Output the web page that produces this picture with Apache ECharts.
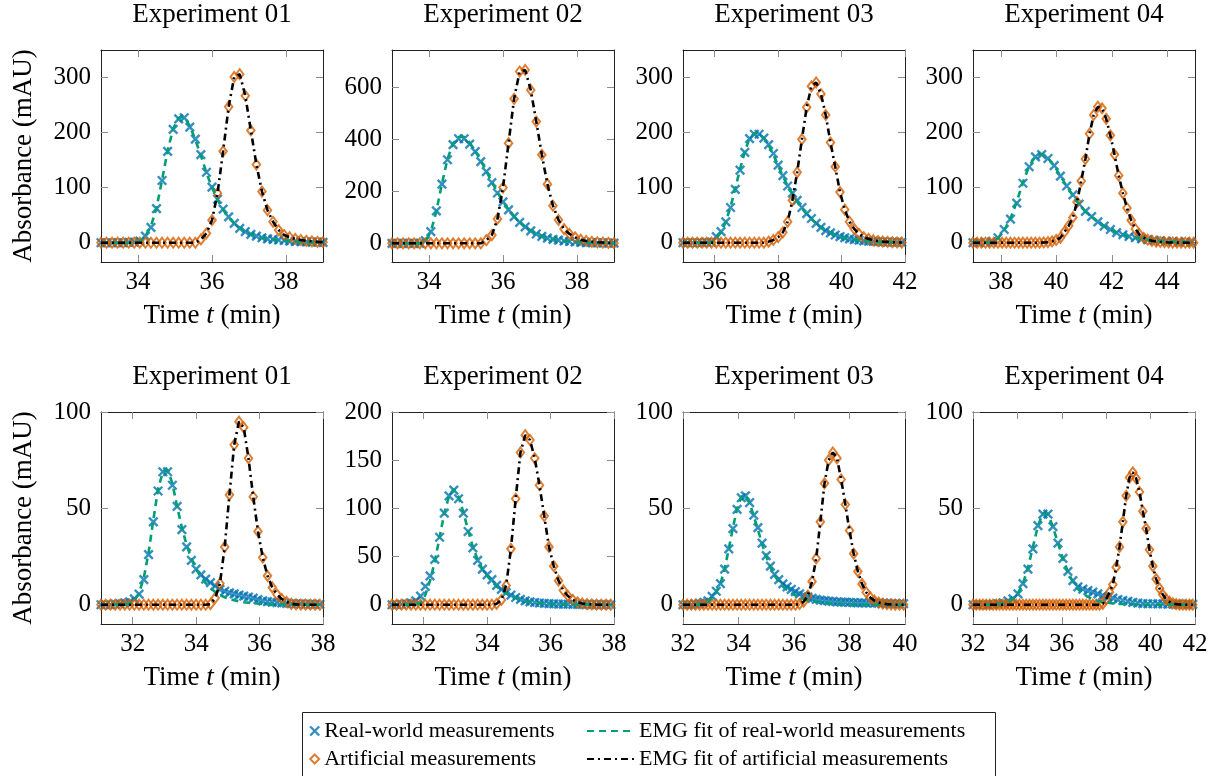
<!DOCTYPE html>
<html>
<head>
<meta charset="utf-8">
<title>EMG fits of chromatography peaks</title>
<script src="https://cdn.jsdelivr.net/npm/echarts@6/dist/echarts.min.js"></script>
<style>
  html, body { margin: 0; padding: 0; background: #fff; }
  #chart { width: 1222px; height: 776px; }
</style>
</head>
<body>
<div id="chart"></div>
<script>
// panels: top row = experiments 01..04, bottom row = experiments 01..04
const titles = ['Experiment 01', 'Experiment 02', 'Experiment 03', 'Experiment 04',
                'Experiment 01', 'Experiment 02', 'Experiment 03', 'Experiment 04'];

const xRanges = [[33, 39], [33, 39], [35, 42], [37, 45], [31, 38], [31, 38], [32, 40], [32, 42]];
const yRanges = [[-35, 350], [-72, 745], [-35, 350], [-35, 350], [-10, 100], [-20, 200], [-10, 100], [-10, 100]];

const xTicks = [
  [34, 36, 38], [34, 36, 38], [36, 38, 40, 42], [38, 40, 42, 44],
  [32, 34, 36, 38], [32, 34, 36, 38], [32, 34, 36, 38, 40], [32, 34, 36, 38, 40, 42]
];
const yTicks = [
  [0, 100, 200, 300], [0, 200, 400, 600], [0, 100, 200, 300], [0, 100, 200, 300],
  [0, 50, 100], [0, 50, 100, 150, 200], [0, 50, 100], [0, 50, 100]
];

// sampling of the measurements (time of first sample, spacing in min)
const startTimes = [33, 33, 35, 37, 31, 31, 32, 32];
const realSteps = [0.15, 0.15, 0.15, 0.225, 0.15, 0.15, 0.15, 0.225];
const artSteps = [0.15, 0.15, 0.15, 0.15, 0.15, 0.15, 0.15, 0.15];

// real-world measurements (mAU)
const realMeas = [
  [0, 0, 0, 0, 0, 0.5, 1, 3, 12, 28, 62, 113, 166, 206, 225, 227, 210, 188, 160, 128, 101, 79, 61, 47, 35, 26, 20, 15, 12, 9, 7, 6, 5, 4, 3, 2.5, 2, 1.5, 1.2, 1, 0.8],
  [0, 0, 0, 0, 0, 0, 10, 45, 125, 228, 322, 380, 403, 403, 382, 353, 315, 276, 234, 194, 160, 129, 103, 81, 63, 48, 36, 27, 20, 15, 12, 9, 7, 5, 4, 3, 2.5, 2, 1.5, 1, 1],
  [0, 0, 0, 0, 0, 0.5, 1, 11, 20, 38, 64, 97, 132, 164, 189, 197, 197, 190, 178, 162, 141, 122, 103, 90, 77, 64, 53, 44, 35, 28, 22, 18, 14, 11, 9, 7, 5.5, 4.5, 3.5, 3, 2.5, 2, 1.5, 1.2, 1, 0.8, 0.6],
  [0, 0, 0.5, 2, 9, 24, 43, 72, 108, 138, 156, 160, 153, 140, 121, 103, 87, 70, 57, 47.5, 38, 30, 24, 18.5, 14.5, 11.3, 9, 7, 5.5, 4.3, 3.4, 2.7, 2.1, 1.7, 1.3, 1],
  [0, 0, 0, 0.3, 0.5, 1, 1.5, 3, 5.5, 13, 26, 43, 59, 69, 69, 62, 51, 39, 30, 23, 18.5, 15.5, 13.3, 11.5, 9.8, 8, 7, 6.2, 5.6, 5, 4.5, 4, 3.4, 2.6, 2, 1.6, 1.3, 1.1, 0.9, 0.7, 0.6, 0.5, 0.4, 0.3, 0.3, 0.2, 0.2],
  [0, 0, 0.5, 1, 2, 4, 9, 19, 30, 47, 70, 95, 113, 119, 110, 95, 76, 59, 46, 37, 31, 26, 20, 16, 12.5, 10, 7.5, 5.5, 4, 3, 2.3, 1.8, 1.4, 1.1, 0.9, 0.7, 0.6, 0.5, 0.4, 0.4, 0.3, 0.3, 0.2, 0.2, 0.2, 0.1, 0.1],
  [0, 0, 0, 0.3, 0.7, 1.2, 2, 4.3, 7, 11, 18.5, 29, 39.5, 49.5, 55.5, 56.5, 53, 46.5, 40, 32, 25.5, 20, 15.7, 13, 10.8, 9.3, 8, 6.8, 5.6, 4.7, 3.9, 3.3, 2.8, 2.4, 2.1, 1.9, 1.7, 1.5, 1.4, 1.3, 1.2, 1.1, 1, 1, 0.9, 0.9, 0.8, 0.8, 0.7, 0.7, 0.6, 0.6, 0.5, 0.5],
  [0, 0, 0, 0, 0.2, 0.5, 1, 2, 3, 5.6, 10.9, 18.5, 29, 41, 47, 47, 40.5, 32, 24, 17.3, 12.5, 9.3, 8.1, 7.3, 6.5, 5.6, 4.7, 3.9, 3.4, 2.7, 2.2, 1.7, 1.2, 0.8, 0.6, 0.5, 0.5, 0.4, 0.4, 0.3, 0.3, 0.3, 0.2, 0.2, 0.2]
];

// EMG fit of the real-world measurements, same time grid as realMeas
const realFit = [
  [0, 0, 0, 0, 0, 0, 0, 2, 12, 30, 63, 114, 167, 207, 227, 229, 212, 187, 158, 127, 100, 78, 60, 46, 35, 27, 20, 15, 12, 9, 7, 6, 5, 4, 3, 2.5, 2, 1.5, 1.2, 1, 0.8],
  [0, 0, 0, 0, 0, 0, 8, 45, 125, 230, 325, 385, 410, 410, 388, 356, 318, 278, 236, 196, 161, 130, 104, 82, 64, 49, 37, 28, 21, 16, 12, 9, 7, 5, 4, 3, 2.3, 1.8, 1.4, 1, 0.8],
  [0, 0, 0, 0, 0, 0, 0.5, 8, 19, 38, 65, 99, 134, 166, 190, 199, 198, 190, 177, 160, 140, 121, 103, 88, 75, 63, 52, 43, 35, 28, 22, 17.5, 14, 11, 8.5, 6.7, 5.3, 4.2, 3.3, 2.6, 2, 1.6, 1.2, 1, 0.8, 0.6, 0.5],
  [0, 0, 0, 1, 8, 23, 44, 74, 110, 139, 157, 161, 154, 140, 121, 103, 86, 70, 57, 47, 38, 30, 24, 18.5, 14.5, 11.3, 9, 7, 5.5, 4.3, 3.4, 2.7, 2.1, 1.7, 1.3, 1],
  [0, 0, 0, 0, 0, 0, 0.5, 2, 6, 14, 27, 44, 60, 69, 70, 63, 51, 40, 31, 24, 18.5, 14.5, 11.2, 8.6, 6.6, 5, 3.9, 3, 2.3, 1.8, 1.3, 1, 0.8, 0.6, 0.4, 0.3, 0.2, 0.15, 0.1, 0.1, 0, 0, 0, 0, 0, 0, 0],
  [0, 0, 0, 0, 0, 0, 2, 10, 25, 45, 70, 95, 113, 120, 112, 96, 77, 60, 47, 37, 30, 24, 19, 15, 11.5, 9, 7, 5.3, 4, 3, 2.3, 1.7, 1.3, 1, 0.7, 0.5, 0.4, 0.3, 0.2, 0.2, 0.1, 0.1, 0.1, 0, 0, 0, 0],
  [0, 0, 0, 0, 0.2, 0.6, 1.5, 3.5, 6.5, 11, 18.5, 29, 40, 50, 56, 57, 53, 46, 39, 31.5, 25, 19.5, 15.2, 12, 9.5, 7.6, 6.1, 4.9, 3.9, 3.1, 2.5, 2, 1.6, 1.3, 1, 0.8, 0.6, 0.5, 0.4, 0.3, 0.25, 0.2, 0.15, 0.1, 0.1, 0.1, 0, 0, 0, 0, 0, 0, 0, 0],
  [0, 0, 0, 0, 0, 0.3, 0.8, 1.8, 3.2, 6, 11, 19, 30, 41, 47.5, 47, 40.5, 32, 24, 17, 11.8, 8.2, 5.8, 4.1, 2.9, 2, 1.4, 1, 0.7, 0.5, 0.35, 0.25, 0.2, 0.1, 0.1, 0, 0, 0, 0, 0, 0, 0, 0, 0, 0]
];

// artificial measurements (mAU); the EMG fit of these runs through the same values
const artMeas = [
  [0, 0, 0, 0, 0, 0, 0, 0, 0, 0, 0, 0, 0, 0, 0, 0, 0, 0, 6, 17, 41, 90, 166, 247, 301, 306, 267, 204, 142, 93, 59, 38, 23, 14, 10, 7, 5, 3.5, 2.5, 1.5, 1],
  [0, 0, 0, 0, 0, 0, 0, 0, 0, 0, 0, 0, 0, 0, 0, 0, 0, 12, 32, 94, 215, 386, 557, 662, 668, 591, 469, 341, 228, 145, 90, 55, 36, 23, 14, 9, 6, 4, 3, 2, 1],
  [0, 0, 0, 0, 0, 0, 0, 0, 0, 0, 0, 0, 0, 0, 0, 0, 0, 0, 2, 5, 10, 19, 38, 77, 128, 188, 246, 284, 291, 270, 232, 182, 138, 92, 60, 38, 25, 16, 10, 7, 4.5, 3, 2, 1.5, 1, 0.6, 0.4],
  [0, 0, 0, 0, 0, 0, 0, 0, 0, 0, 0, 0, 0, 0, 0, 0, 0, 0.5, 1, 2.5, 5, 9, 20, 31, 46, 74, 112, 152, 198, 232, 247, 244, 225, 195, 160, 122, 90, 63, 41, 25, 15, 9, 5.5, 3.5, 2.2, 1.4, 0.9, 0.5, 0.3, 0.2, 0.1, 0, 0, 0],
  [0, 0, 0, 0, 0, 0, 0, 0, 0, 0, 0, 0, 0, 0, 0, 0, 0, 0, 0, 0, 0, 0, 0, 0.3, 3.5, 11, 30, 57, 83, 95, 92, 76, 56, 38, 24.5, 15, 9, 5.3, 3, 1.5, 0.5, 0.2, 0.1, 0, 0, 0, 0],
  [0, 0, 0, 0, 0, 0, 0, 0, 0, 0, 0, 0, 0, 0, 0, 0, 0, 0, 0, 0, 0, 0, 1, 5, 20, 58, 110, 158, 176, 171, 152, 124, 92, 60, 40, 25, 15, 9, 5, 2.5, 1.3, 0.6, 0.3, 0.1, 0, 0, 0],
  [0, 0, 0, 0, 0, 0, 0, 0, 0, 0, 0, 0, 0, 0, 0, 0, 0, 0, 0, 0, 0, 0, 0, 0, 0, 0, 0, 0, 0.4, 1.6, 4.7, 12, 24, 43, 63, 75, 79, 76, 65, 52, 38.5, 26.5, 17.3, 10.8, 6.5, 3.8, 2.1, 1.1, 0.6, 0.3, 0.15, 0, 0, 0],
  [0, 0, 0, 0, 0, 0, 0, 0, 0, 0, 0, 0, 0, 0, 0, 0, 0, 0, 0, 0, 0, 0, 0, 0, 0, 0, 0, 0, 0, 0, 0, 0, 0, 0, 0, 0, 0, 0, 0, 0.5, 3, 6.5, 10.5, 19.5, 30, 43, 56.5, 66, 68.7, 65.5, 58.5, 48.5, 39.5, 28.5, 20, 13.3, 8.5, 5.2, 2.9, 1.5, 0.7, 0.3, 0.1, 0, 0, 0, 0]
];

const FONT = 'Liberation Serif, DejaVu Serif, serif';
const BLUE = '#0072B2';
const TEAL = '#009E73';
const ORANGE = '#D55E00';
const CROSS = 'path://M0,0L10,10M10,0L0,10';

const gridLefts = [101, 392, 683, 973, 101, 392, 683, 973];
const gridTops = [50, 50, 50, 50, 412, 412, 412, 412];
const gridW = 222;
const gridH = 212;

const chart = echarts.init(document.getElementById('chart'), null, { renderer: 'canvas' });

const grids = [], xAxes = [], yAxes = [], titleList = [], series = [];

for (let i = 0; i < 8; i++) {
  grids.push({ left: gridLefts[i], top: gridTops[i], width: gridW, height: gridH });

  titleList.push({
    text: titles[i],
    left: gridLefts[i] + gridW / 2,
    top: gridTops[i] - 49,
    textAlign: 'center',
    padding: 0,
    textStyle: { fontFamily: FONT, fontSize: 27, fontWeight: 'normal', color: '#000' }
  });

  const tickStyle = { show: true, inside: true, length: 7, lineStyle: { color: '#8c8c8c', width: 1 } };
  const lineStyle = { show: true, onZero: false, lineStyle: { color: '#222', width: 1 } };

  ['bottom', 'top'].forEach(pos => {
    const main = pos === 'bottom';
    xAxes.push({
      type: 'value', gridIndex: i, position: pos,
      min: xRanges[i][0], max: xRanges[i][1],
      splitLine: { show: false },
      axisLine: lineStyle,
      axisTick: Object.assign({ customValues: xTicks[i] }, tickStyle),
      axisLabel: {
        show: main, customValues: xTicks[i], margin: 8,
        color: '#000', fontFamily: FONT, fontSize: 25
      },
      name: main ? '{a|Time }{b|t}{a| (min)}' : '',
      nameLocation: 'middle', nameGap: 40,
      nameTextStyle: {
        fontFamily: FONT, fontSize: 27,
        rich: {
          a: { fontFamily: FONT, fontSize: 27, color: '#000' },
          b: { fontFamily: FONT, fontSize: 27, color: '#000', fontStyle: 'italic' }
        }
      }
    });
  });

  ['left', 'right'].forEach(pos => {
    const main = pos === 'left';
    yAxes.push({
      type: 'value', gridIndex: i, position: pos,
      min: yRanges[i][0], max: yRanges[i][1],
      splitLine: { show: false },
      axisLine: lineStyle,
      axisTick: Object.assign({ customValues: yTicks[i] }, tickStyle),
      axisLabel: {
        show: main, customValues: yTicks[i], margin: 10,
        color: '#000', fontFamily: FONT, fontSize: 25
      },
      name: main && i % 4 === 0 ? 'Absorbance (mAU)' : '',
      nameLocation: 'middle', nameGap: 64,
      nameTextStyle: { fontFamily: FONT, fontSize: 27, color: '#000' }
    });
  });

  const realPts = realMeas[i].map((v, k) => [+(startTimes[i] + k * realSteps[i]).toFixed(3), v]);
  const fitPts = realFit[i].map((v, k) => [+(startTimes[i] + k * realSteps[i]).toFixed(3), v]);
  const artPts = artMeas[i].map((v, k) => [+(startTimes[i] + k * artSteps[i]).toFixed(3), v]);

  series.push(
    {
      name: 'Real-world measurements', type: 'scatter',
      xAxisIndex: 2 * i, yAxisIndex: 2 * i, data: realPts,
      symbol: CROSS, symbolSize: 8.5, clip: false, silent: true,
      itemStyle: { color: 'transparent', borderColor: BLUE, borderWidth: 2.4 }
    },
    {
      name: 'EMG fit of real-world measurements', type: 'line',
      xAxisIndex: 2 * i, yAxisIndex: 2 * i, data: fitPts,
      symbol: 'none', silent: true,
      itemStyle: { color: TEAL },
      lineStyle: { color: TEAL, width: 2.6, type: [7, 5] }
    },
    {
      name: 'Artificial measurements', type: 'scatter',
      xAxisIndex: 2 * i, yAxisIndex: 2 * i, data: artPts,
      symbol: 'diamond', symbolSize: [7.5, 10], clip: false, silent: true,
      itemStyle: { color: 'transparent', borderColor: ORANGE, borderWidth: 2 }
    },
    {
      name: 'EMG fit of artificial measurements', type: 'line',
      xAxisIndex: 2 * i, yAxisIndex: 2 * i, data: artPts,
      symbol: 'none', silent: true,
      itemStyle: { color: '#000' },
      lineStyle: { color: '#000', width: 2.6, type: [7, 4, 2, 4] }
    }
  );
}

const legendText = { fontFamily: FONT, fontSize: 22, color: '#000' };
const noSymbol = { color: 'transparent', borderWidth: 0, opacity: 0 };

chart.setOption({
  animation: false,
  backgroundColor: '#fff',
  textStyle: { fontFamily: FONT },
  title: titleList,
  grid: grids,
  xAxis: xAxes,
  yAxis: yAxes,
  legend: [
    {
      orient: 'vertical', left: 309, top: 720, padding: 0,
      itemWidth: 9, itemHeight: 9, itemGap: 6,
      textStyle: legendText,
      data: [
        { name: 'Real-world measurements', icon: CROSS,
          itemStyle: { color: 'transparent', borderColor: BLUE, borderWidth: 2.4 } },
        { name: 'Artificial measurements', icon: 'diamond',
          itemStyle: { color: 'transparent', borderColor: ORANGE, borderWidth: 2 } }
      ]
    },
    {
      orient: 'vertical', left: 586, top: 720, padding: 0,
      itemWidth: 47, itemHeight: 9, itemGap: 6,
      textStyle: legendText,
      data: [
        { name: 'EMG fit of real-world measurements', itemStyle: noSymbol },
        { name: 'EMG fit of artificial measurements', itemStyle: noSymbol }
      ]
    }
  ],
  graphic: [{
    type: 'rect', left: 302, top: 712, z: 0,
    shape: { width: 693, height: 80 },
    style: { fill: '#fff', stroke: '#222', lineWidth: 1 }
  }],
  series: series
});
</script>
</body>
</html>
